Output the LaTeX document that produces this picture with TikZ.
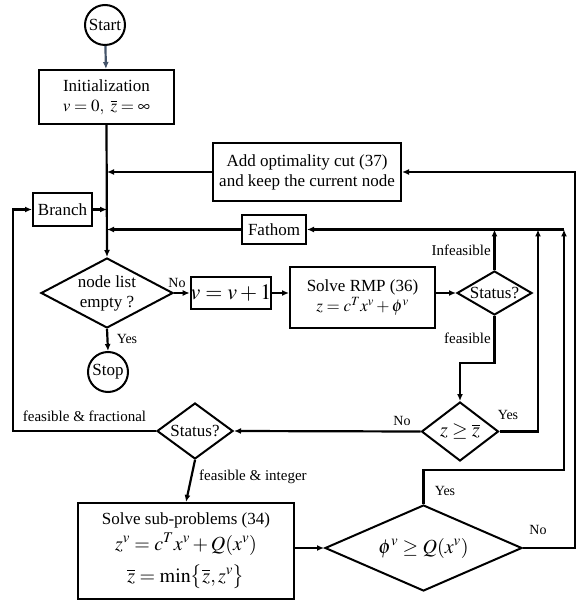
\documentclass[tikz,border=0pt]{standalone}
\usepackage{mathptmx}
\usepackage[no-math]{fontspec}
\setmainfont{Liberation Serif}
\usetikzlibrary{arrows.meta,shapes.geometric}
\newcommand{\fsmain}{\fontsize{17}{20}\selectfont}
\newcommand{\fslbl}{\fontsize{15}{17}\selectfont}
\newcommand{\fsyn}{\fontsize{14}{16}\selectfont}
\newcommand{\fsmth}{\fontsize{20}{24}\selectfont}
\newcommand{\fsbig}{\fontsize{22}{24}\selectfont}
\definecolor{startarr}{RGB}{68,84,106}
\begin{document}
\begin{tikzpicture}[x=1pt,y=-1pt,
  box/.style={draw, line width=2pt, rectangle, inner sep=2pt, align=center, font=\fsmain},
  dia/.style={draw, line width=2pt, diamond, inner sep=0pt, align=center, font=\fsmain},
  term/.style={draw, circle, line width=2pt, inner sep=0pt, minimum size=40pt, font=\fsmain},
  conn/.style={line width=2.2pt, -{Latex[length=7pt,width=6pt]}},
  lbl/.style={font=\fslbl, inner sep=1pt},
  yn/.style={font=\fsyn, inner sep=1pt}]
\useasboundingbox (0,0) rectangle (576,601);
\node[term] (start) at (105,25) {Start};
\node[box, minimum width=135pt, minimum height=54pt] (init) at (106.5,97) {Initialization\\$v=0,\ \overline{z}=\infty$};
\node[box, minimum width=188pt, minimum height=58pt] (cut) at (307,172) {Add optimality cut (37)\\and keep the current node};
\node[box, minimum width=64pt, minimum height=29pt] (fathom) at (274,229.5) {Fathom};
\node[box, minimum width=59pt, minimum height=33pt] (branch) at (62.5,209.5) {Branch};
\node[dia, minimum width=132pt, minimum height=70pt, shape aspect=1.9] (list) at (107,293) {node list\\empty ?};
\node[box, minimum width=74pt, minimum height=32pt, inner sep=0pt, font=\fsbig] (inc) at (231,293) {$v=v+1$};
\node[box, minimum width=145pt, minimum height=61pt] (rmp) at (362.5,297.5) {Solve RMP (36)\\$z=c^{T}x^{v}+\phi^{v}$};
\node[dia, minimum width=75pt, minimum height=44pt, shape aspect=1.7] (st1) at (494.5,293) {Status?};
\node[term] (stop) at (108,372) {Stop};
\node[dia, minimum width=77pt, minimum height=59pt, shape aspect=1.3, font=\fsmth] (zd) at (460,431.5) {$z\ge\overline{z}$};
\node[dia, minimum width=76pt, minimum height=56pt, shape aspect=1.36] (st2) at (195,431) {Status?};
\node[box, minimum width=216pt, minimum height=96pt] (sub) at (186,551) {Solve sub-problems (34)\\[4pt]
  {\fsmth$z^{v}=c^{T}x^{v}+Q(x^{v})$}\\[9pt]
  {\fsmth$\overline{z}=\min\bigl\{\overline{z},z^{v}\bigr\}$}};
\node[dia, minimum width=197pt, minimum height=86pt, shape aspect=2.3, font=\fsmth] (phi) at (423.5,548) {$\phi^{v}\ge Q(x^{v})$};
\coordinate (fr) at (564,229.5);
\coordinate (c538) at (538,0);
\coordinate (rr) at (575,0);
\coordinate (lf) at (13,0);
% connectors
\draw[conn, startarr] (start) -- (init);
\draw[conn] (init.south) -- (list.north);
\draw[conn] (cut.west) -- (cut.west -| list.north);
\draw[conn] (branch.east) -- (branch.east -| list.north);
\draw[conn] (fathom.west) -- (fathom.west -| list.north);
\draw[conn] (list.east) -- (inc.west);
\draw[conn] (list.south) -- (stop.north);
\draw[conn] (inc.east) -- (inc.east -| rmp.west);
\draw[conn] (st1.west -| rmp.east) -- (st1.west);
\draw[conn] (fr) -- (fathom.east);
\draw[conn] (st1.north) -- (st1.north |- fathom.east);
\draw[conn] (st1.south) -- ++(0,47) -| (zd.north);
\draw[conn] (zd.east) -- (zd.east -| c538) -- (c538 |- fathom.east);
\draw[conn] (zd.west) -- (st2.east);
\draw[conn] (st2.west) -- (st2.west -| lf) |- (branch.west);
\draw[conn] (st2.south) -- (sub.north);
\draw[conn] (sub.east |- phi.west) -- (phi.west);
\draw[conn] (phi.north) -- ++(0,-34) -| (fr);
\draw[conn] (phi.east) -- (phi.east -| rr) -- (cut.east -| rr) -- (cut.east);
% labels
\node[yn] (lno1) at (177,283) {No};
\node[yn] (lyes1) at (127,339) {Yes};
\node[lbl, anchor=east] (linf) at (492,250) {Infeasible};
\node[lbl, anchor=east] (lfeas) at (492,338) {feasible};
\node[yn] (lyes2) at (508,415) {Yes};
\node[yn] (lno2) at (402,421) {No};
\node[lbl] (lfrac) at (84.5,416) {feasible \& fractional};
\node[lbl, anchor=west] (lint) at (198,477) {feasible \& integer};
\node[yn] (lyes3) at (445,491) {Yes};
\node[yn] (lno3) at (538,530) {No};
\end{tikzpicture}
\end{document}
